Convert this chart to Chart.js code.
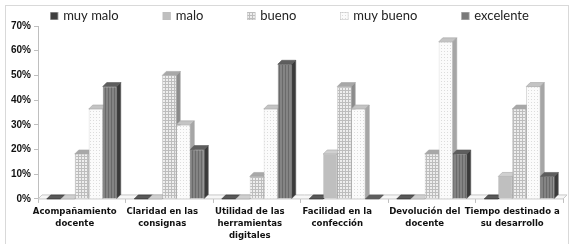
<!DOCTYPE html>
<html><head><meta charset="utf-8">
<script src="https://cdn.jsdelivr.net/npm/chart.js@4/dist/chart.umd.min.js"></script>
<style>html,body{margin:0;padding:0;background:#fff}#wrap{width:575px;height:244px}</style>
</head><body><div id="wrap"><canvas id="c" width="575" height="244"></canvas></div>
<script>
const categories = [["Acompañamiento","docente"],["Claridad en las","consignas"],["Utilidad de las","herramientas","digitales"],["Facilidad en la","confección"],["Devolución del","docente"],["Tiempo destinado a","su desarrollo"]];
const seriesNames = ["muy malo","malo","bueno","muy bueno","excelente"];
const muyMalo = [0,0,0,0,0,0];
const malo = [0,0,0,18.2,0,9.1];
const bueno = [18.2,50,9.1,45.5,18.2,36.4];
const muyBueno = [36.4,30,36.4,36.4,63.6,45.5];
const excelente = [45.5,20,54.5,0,18.2,9.1];
const yTicks = [0,10,20,30,40,50,60,70];

const canvas = document.getElementById('c');
const ctx = canvas.getContext('2d');
function pat(size,bg,fg,fn){const c=document.createElement('canvas');c.width=c.height=size;const x=c.getContext('2d');x.fillStyle=bg;x.fillRect(0,0,size,size);x.fillStyle=fg;fn(x);return ctx.createPattern(c,'repeat');}
const fills = [
  '#3f3f3f',
  '#bfbfbf',
  pat(3,'#eeeeee','#bdbdbd',x=>{x.fillRect(0,0,3,1);x.fillRect(0,0,1,3);}),
  pat(3,'#fbfbfb','#dcdcdc',x=>{x.fillRect(0,0,1,1);}),
  pat(3,'#848484','#6a6a6a',x=>{x.fillRect(0,0,1,3);})
];
const borders = ['#2a2a2a','#a6a6a6','#a6a6a6','#a6a6a6','#5a5a5a'];
const faces = [{top:'#595959',side:'#1f1f1f'},{top:'#d0d0d0',side:'#9a9a9a'},{top:'#a8a8a8',side:'#8c8c8c'},{top:'#c4c4c4',side:'#a6a6a6'},{top:'#5e5e5e',side:'#3a3a3a'}];
const legendFill = ['#3f3f3f','#bfbfbf',fills[2],fills[3],'#7a7a7a'];
const depth = 4;
const seriesValues = [muyMalo,malo,bueno,muyBueno,excelente];

const threeD = {
  id:'threeD',
  beforeDraw(chart){
    const c=chart.ctx;c.save();c.strokeStyle='#d9d9d9';c.lineWidth=1;c.strokeRect(5.5,5.5,563,250);c.restore();
  },
  beforeDatasetsDraw(chart){
    const c=chart.ctx, a=chart.chartArea, yb=chart.scales.y.getPixelForValue(0);
    c.save();
    c.beginPath();c.moveTo(a.left,yb);c.lineTo(a.left+depth,yb-depth);c.lineTo(a.right+depth,yb-depth);c.lineTo(a.right,yb);c.closePath();
    c.fillStyle='#f7f7f7';c.fill();c.strokeStyle='#c8c8c8';c.lineWidth=1;c.stroke();
    const n=chart.data.labels.length;
    for(let k=0;k<n;k++){
      chart.data.datasets.forEach((ds,i)=>{
        const el=chart.getDatasetMeta(i).data[k];
        const p=el.getProps(['x','y','base','width'],true);
        const l=p.x-p.width/2, r=p.x+p.width/2, y=p.y, b=p.base;
        c.beginPath();c.moveTo(l,y);c.lineTo(l+depth,y-depth);c.lineTo(r+depth,y-depth);c.lineTo(r,y);c.closePath();
        c.fillStyle=faces[i].top;c.fill();c.strokeStyle=borders[i];c.lineWidth=0.6;c.stroke();
        c.beginPath();c.moveTo(r,y);c.lineTo(r+depth,y-depth);c.lineTo(r+depth,b-depth);c.lineTo(r,b);c.closePath();
        c.fillStyle=faces[i].side;c.fill();c.stroke();
      });
    }
    c.restore();
  },
  afterDraw(chart){
    const c=chart.ctx;c.save();
    c.font='13px Lato';c.textBaseline='middle';
    const box=8,gap=5,sp=44;
    const ws=seriesNames.map(s=>c.measureText(s).width);
    const total=ws.reduce((s,w)=>s+box+gap+w,0)+sp*(ws.length-1);
    let x=chart.width/2-total/2+2;const y=16;
    seriesNames.forEach((s,i)=>{
      c.fillStyle=legendFill[i];c.fillRect(x,y-4,box,box);
      c.strokeStyle='#bdbdbd';c.lineWidth=0.5;c.strokeRect(x+0.25,y-3.75,box-0.5,box-0.5);
      c.fillStyle='#222';c.fillText(s,x+box+gap,y);
      x+=box+gap+ws[i]+sp;
    });
    c.restore();
  }
};

const xFont={family:'"DejaVu Sans Condensed","Liberation Sans Narrow","Arial Narrow",sans-serif',size:9.5,weight:'bold',lineHeight:1.3};
new Chart(ctx,{
  type:'bar',
  data:{labels:categories,datasets:seriesValues.map((v,i)=>({label:seriesNames[i],data:v,backgroundColor:fills[i],borderColor:borders[i],borderWidth:0.6,categoryPercentage:0.8,barPercentage:1}))},
  options:{
    responsive:false,animation:false,
    layout:{padding:{top:26,right:12,left:8,bottom:0}},
    plugins:{legend:{display:false},tooltip:{enabled:false}},
    scales:{
      x:{grid:{drawOnChartArea:false,color:'#bfbfbf',tickLength:4,offset:true},border:{color:'#bfbfbf'},
         ticks:{font:xFont,color:'#111',labelOffset:-7,padding:2,maxRotation:0,autoSkip:false}},
      y:{min:0,max:70,grid:{drawOnChartArea:false,color:'#bfbfbf',tickLength:4},border:{color:'#bfbfbf'},
         afterBuildTicks:s=>{s.ticks=yTicks.map(v=>({value:v}));},
         ticks:{font:{family:'"Liberation Sans",Arial,sans-serif',size:10,weight:'bold'},color:'#111',padding:3,callback:v=>v+'%'}}
    }
  },
  plugins:[threeD]
});
</script></body></html>
